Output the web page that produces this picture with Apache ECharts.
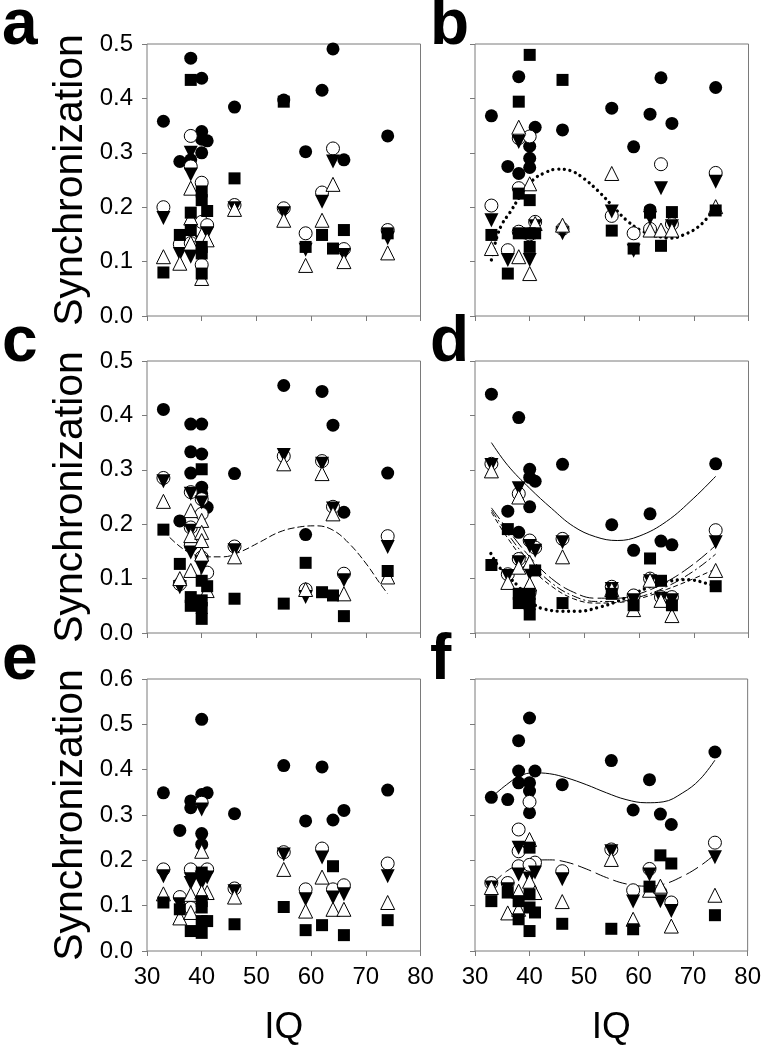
<!DOCTYPE html>
<html>
<head>
<meta charset="utf-8">
<script src="https://cdn.jsdelivr.net/npm/echarts@6/dist/echarts.min.js"></script>
<style>
html, body { margin: 0; padding: 0; background: #fff; }
#chart { width: 764px; height: 1048px; }
</style>
</head>
<body>
<div id="chart"></div>
<script>
// x ticks / y ticks
const iqTicks = [30, 40, 50, 60, 70, 80]
const syncTicksTop = [0, 0.1, 0.2, 0.3, 0.4, 0.5]
const syncTicksBottom = [0, 0.1, 0.2, 0.3, 0.4, 0.5, 0.6]

// panel a
const aCircle = [[33,0.358],[36,0.284],[38,0.474],[38,0.287],[40,0.437],[40,0.339],[40,0.300],[41,0.322],[40,0.325],[46,0.384],[55,0.397],[59,0.302],[62,0.415],[64,0.491],[66,0.287],[74,0.331]]
const aOpen = [[33,0.200],[36,0.132],[38,0.331],[38,0.275],[38,0.134],[40,0.245],[40,0.173],[41,0.167],[40,0.094],[46,0.204],[55,0.198],[59,0.152],[62,0.227],[64,0.308],[66,0.123],[74,0.158]]
const aDown = [[33,0.180],[36,0.114],[38,0.300],[38,0.260],[38,0.109],[40,0.135],[41,0.152],[40,0.118],[46,0.198],[55,0.189],[59,0.122],[62,0.210],[64,0.284],[66,0.112],[74,0.143]]
const aUp = [[33,0.109],[36,0.097],[38,0.235],[38,0.180],[38,0.134],[40,0.149],[41,0.140],[40,0.069],[46,0.196],[55,0.176],[59,0.093],[62,0.176],[64,0.242],[66,0.100],[74,0.116]]
const aSquare = [[33,0.080],[36,0.149],[38,0.434],[38,0.190],[38,0.158],[40,0.229],[40,0.213],[41,0.193],[40,0.127],[40,0.115],[40,0.078],[46,0.253],[55,0.394],[59,0.127],[62,0.149],[64,0.124],[66,0.158],[74,0.152]]

// panel b
const bCircle = [[33,0.368],[36,0.275],[38,0.440],[38,0.262],[40,0.312],[40,0.290],[40,0.273],[41,0.347],[46,0.342],[55,0.382],[59,0.311],[62,0.371],[62,0.195],[64,0.438],[66,0.354],[74,0.420]]
const bOpen = [[33,0.203],[36,0.121],[38,0.327],[38,0.235],[38,0.155],[40,0.330],[41,0.173],[40,0.150],[46,0.160],[55,0.184],[59,0.152],[62,0.160],[64,0.279],[66,0.169],[74,0.263]]
const bDown = [[33,0.176],[36,0.103],[38,0.320],[40,0.103],[41,0.165],[46,0.152],[55,0.192],[59,0.120],[62,0.180],[64,0.235],[66,0.165],[74,0.247]]
const bUp = [[33,0.124],[38,0.347],[38,0.109],[40,0.243],[41,0.170],[40,0.078],[46,0.167],[55,0.262],[62,0.158],[64,0.158],[66,0.158],[74,0.201]]
const bSquare = [[33,0.149],[36,0.078],[38,0.394],[38,0.225],[38,0.152],[40,0.480],[40,0.213],[40,0.152],[41,0.152],[40,0.127],[46,0.434],[55,0.157],[59,0.124],[62,0.190],[64,0.129],[66,0.191],[74,0.194]]
const bFitX = [33, 34, 35, 36.3, 38.2, 40.6, 42.7, 45, 47.5, 50, 52.5, 55, 57.7, 60.2, 62.6, 65.7, 68.1, 71.2, 74]
const bFitDotted = [0.103, 0.145, 0.170, 0.189, 0.219, 0.250, 0.263, 0.270, 0.267, 0.252, 0.230, 0.204, 0.176, 0.158, 0.149, 0.143, 0.149, 0.167, 0.201]

// panel c
const cCircle = [[33,0.411],[36,0.206],[38,0.384],[38,0.333],[38,0.294],[40,0.384],[40,0.329],[40,0.268],[40,0.256],[41,0.231],[46,0.293],[55,0.455],[59,0.181],[62,0.444],[64,0.382],[66,0.222],[74,0.294]]
const cOpen = [[33,0.285],[36,0.090],[38,0.259],[38,0.194],[38,0.161],[40,0.246],[40,0.219],[40,0.139],[41,0.111],[46,0.159],[55,0.325],[59,0.080],[62,0.316],[64,0.232],[66,0.109],[74,0.178]]
const cDown = [[33,0.279],[36,0.084],[38,0.256],[38,0.188],[38,0.148],[40,0.240],[40,0.130],[40,0.120],[46,0.152],[55,0.327],[59,0.066],[62,0.311],[64,0.229],[66,0.097],[74,0.158]]
const cUp = [[33,0.242],[36,0.100],[38,0.225],[38,0.179],[38,0.115],[40,0.207],[40,0.185],[40,0.170],[40,0.145],[41,0.078],[46,0.140],[55,0.311],[59,0.080],[62,0.293],[64,0.219],[66,0.072],[74,0.103]]
const cSquare = [[33,0.190],[36,0.127],[38,0.066],[38,0.050],[40,0.301],[40,0.096],[40,0.060],[40,0.046],[40,0.026],[41,0.086],[46,0.063],[55,0.054],[59,0.129],[62,0.075],[64,0.069],[66,0.031],[74,0.114]]
const cFitX = [32.9, 35.4, 38.1, 40.9, 43.9, 47, 50.6, 54.3, 57.9, 61, 64, 67, 70.1, 72.6, 74]
const cFitDashed = [0.189, 0.164, 0.146, 0.140, 0.140, 0.149, 0.167, 0.186, 0.195, 0.197, 0.189, 0.164, 0.127, 0.091, 0.072]

// panel d
const dCircle = [[33,0.439],[36,0.224],[38,0.396],[38,0.185],[40,0.301],[40,0.286],[41,0.279],[40,0.232],[46,0.310],[55,0.199],[59,0.152],[62,0.219],[64,0.169],[66,0.162],[74,0.311]]
const dOpen = [[33,0.311],[36,0.108],[38,0.256],[38,0.136],[40,0.170],[41,0.157],[40,0.075],[46,0.173],[55,0.085],[59,0.069],[62,0.100],[64,0.066],[66,0.066],[74,0.189]]
const dDown = [[33,0.309],[36,0.105],[38,0.266],[38,0.130],[40,0.160],[41,0.151],[40,0.110],[46,0.167],[55,0.081],[59,0.060],[62,0.095],[64,0.063],[66,0.060],[74,0.167]]
const dUp = [[33,0.298],[36,0.093],[38,0.250],[38,0.121],[40,0.130],[40,0.090],[46,0.140],[55,0.080],[59,0.043],[62,0.097],[64,0.060],[66,0.032],[74,0.115]]
const dSquare = [[33,0.125],[36,0.191],[38,0.072],[38,0.055],[40,0.072],[40,0.053],[40,0.034],[41,0.115],[46,0.055],[55,0.072],[59,0.051],[62,0.137],[64,0.096],[66,0.051],[74,0.086]]
const dFitX = [33, 36, 40, 44, 48, 52, 56, 60, 65, 70, 74]
const dFitSolid = [0.350, 0.308, 0.266, 0.229, 0.196, 0.177, 0.170, 0.178, 0.205, 0.248, 0.288]
const dFitLong = [0.230, 0.190, 0.140, 0.100, 0.075, 0.064, 0.064, 0.072, 0.094, 0.127, 0.161]
const dFitDashDot = [0.226, 0.182, 0.131, 0.092, 0.068, 0.058, 0.058, 0.066, 0.085, 0.114, 0.145]
const dFitShort = [0.222, 0.174, 0.122, 0.086, 0.063, 0.055, 0.056, 0.063, 0.080, 0.100, 0.118]
const dFitDotX = [32.9, 34.2, 36, 38, 40.9, 42.7, 45.8, 49, 52.9, 56, 59, 62, 65, 68, 70, 72, 74]
const dFitDotted = [0.146, 0.124, 0.105, 0.085, 0.052, 0.044, 0.040, 0.040, 0.048, 0.058, 0.072, 0.085, 0.094, 0.098, 0.097, 0.092, 0.086]

// panel e
const eCircle = [[33,0.349],[36,0.266],[38,0.331],[38,0.316],[40,0.511],[40,0.345],[41,0.349],[40,0.259],[40,0.235],[46,0.303],[55,0.409],[59,0.287],[62,0.406],[64,0.289],[66,0.310],[74,0.355]]
const eOpen = [[33,0.180],[36,0.119],[38,0.180],[38,0.110],[38,0.095],[40,0.327],[41,0.180],[46,0.138],[55,0.218],[59,0.136],[62,0.226],[64,0.136],[66,0.145],[74,0.193]]
const eDown = [[33,0.165],[36,0.103],[38,0.158],[38,0.150],[40,0.312],[40,0.162],[41,0.162],[40,0.150],[46,0.132],[55,0.213],[59,0.114],[62,0.206],[64,0.118],[66,0.125],[74,0.165]]
const eUp = [[33,0.126],[36,0.073],[38,0.125],[38,0.085],[40,0.220],[41,0.129],[40,0.130],[46,0.119],[55,0.180],[59,0.088],[62,0.163],[64,0.092],[66,0.092],[74,0.107]]
const eSquare = [[33,0.107],[36,0.092],[38,0.044],[40,0.173],[40,0.110],[40,0.096],[40,0.066],[41,0.066],[40,0.040],[46,0.059],[55,0.097],[59,0.046],[62,0.057],[64,0.187],[66,0.035],[74,0.068]]

// panel f
const fCircle = [[33,0.339],[36,0.334],[38,0.464],[38,0.397],[38,0.371],[40,0.514],[41,0.397],[40,0.371],[40,0.353],[40,0.305],[46,0.367],[55,0.420],[59,0.311],[62,0.378],[64,0.302],[66,0.279],[74,0.439]]
const fOpen = [[33,0.150],[36,0.150],[38,0.268],[38,0.220],[38,0.187],[40,0.329],[41,0.195],[40,0.190],[46,0.176],[55,0.224],[59,0.134],[62,0.181],[64,0.130],[66,0.107],[74,0.239]]
const fDown = [[33,0.140],[36,0.136],[38,0.228],[38,0.169],[40,0.160],[41,0.173],[46,0.158],[55,0.220],[59,0.109],[62,0.169],[64,0.110],[66,0.088],[74,0.207]]
const fUp = [[33,0.140],[36,0.084],[38,0.132],[38,0.092],[40,0.246],[40,0.154],[41,0.129],[46,0.109],[55,0.202],[59,0.070],[62,0.134],[64,0.143],[66,0.055],[74,0.123]]
const fSquare = [[33,0.110],[36,0.129],[38,0.110],[38,0.070],[40,0.228],[40,0.125],[40,0.096],[41,0.085],[40,0.044],[46,0.060],[55,0.049],[59,0.048],[62,0.142],[64,0.211],[66,0.193],[74,0.079]]
const fFitX = [33, 35.8, 38.2, 40.7, 43.7, 46.8, 50.4, 54.1, 57.7, 61.4, 64.5, 68.1, 71.2, 74]
const fFitSolid = [0.339, 0.367, 0.386, 0.393, 0.391, 0.382, 0.367, 0.349, 0.334, 0.327, 0.329, 0.349, 0.378, 0.421]
const fFitDashed = [0.146, 0.176, 0.191, 0.200, 0.201, 0.196, 0.181, 0.162, 0.148, 0.143, 0.147, 0.165, 0.187, 0.213]

const FONT = '"Liberation Sans", Arial, sans-serif'
const GRAY = '#7a7a7a'

const pair = (xs, ys) => xs.map((x, i) => [x, ys[i]])

const panels = [
  { letter: 'a', left: 147, top: 44, ticks: syncTicksTop, xLabel: false, yLabel: true,
    marks: [aCircle, aOpen, aDown, aUp, aSquare], fits: [] },
  { letter: 'b', left: 475, top: 44, ticks: syncTicksTop, xLabel: false, yLabel: false,
    marks: [bCircle, bOpen, bDown, bUp, bSquare],
    fits: [{ data: pair(bFitX, bFitDotted), style: 'dot' }] },
  { letter: 'c', left: 147, top: 361, ticks: syncTicksTop, xLabel: false, yLabel: true,
    marks: [cCircle, cOpen, cDown, cUp, cSquare],
    fits: [{ data: pair(cFitX, cFitDashed), style: [7, 3] }] },
  { letter: 'd', left: 475, top: 361, ticks: syncTicksTop, xLabel: false, yLabel: false,
    marks: [dCircle, dOpen, dDown, dUp, dSquare],
    fits: [
      { data: pair(dFitX, dFitSolid), style: 'solid' },
      { data: pair(dFitX, dFitLong), style: [14, 4] },
      { data: pair(dFitX, dFitDashDot), style: [9, 3, 2, 3] },
      { data: pair(dFitX, dFitShort), style: [5, 3] },
      { data: pair(dFitDotX, dFitDotted), style: 'dot' }
    ] },
  { letter: 'e', left: 147, top: 679, ticks: syncTicksBottom, xLabel: true, yLabel: true,
    marks: [eCircle, eOpen, eDown, eUp, eSquare], fits: [] },
  { letter: 'f', left: 475, top: 679, ticks: syncTicksBottom, xLabel: true, yLabel: false,
    marks: [fCircle, fOpen, fDown, fUp, fSquare],
    fits: [
      { data: pair(fFitX, fFitSolid), style: 'solid' },
      { data: pair(fFitX, fFitDashed), style: [14, 5] }
    ] }
]

// ● ○ ▼ △ ■ (drawn in this order, later ones on top)
const markStyles = [
  { symbol: 'circle', symbolSize: 13, itemStyle: { color: '#000', opacity: 1 } },
  { symbol: 'circle', symbolSize: 13, itemStyle: { color: '#fff', borderColor: '#000', borderWidth: 1, opacity: 1 } },
  { symbol: 'triangle', symbolSize: 14, symbolRotate: 180, itemStyle: { color: '#000', opacity: 1 } },
  { symbol: 'triangle', symbolSize: 14, itemStyle: { color: '#fff', borderColor: '#000', borderWidth: 1, opacity: 1 } },
  { symbol: 'rect', symbolSize: 12, itemStyle: { color: '#000', opacity: 1 } }
]

const grids = [], xAxes = [], yAxes = [], series = [], titles = []

panels.forEach((p, i) => {
  const yMax = p.ticks[p.ticks.length - 1]
  grids.push({ left: p.left, top: p.top, width: 273.5, height: 272, show: true,
    borderColor: GRAY, borderWidth: 1 })
  xAxes.push({
    gridIndex: i, type: 'value', min: iqTicks[0], max: iqTicks[iqTicks.length - 1], interval: 10,
    axisLine: { show: false }, splitLine: { show: false },
    axisTick: { show: true, length: 5, lineStyle: { color: GRAY } },
    axisLabel: { show: p.xLabel, color: '#000', fontSize: 24, fontFamily: FONT, margin: 14 },
    name: p.xLabel ? 'IQ' : '', nameLocation: 'middle', nameGap: 58,
    nameTextStyle: { color: '#000', fontSize: 37, fontFamily: FONT }
  })
  yAxes.push({
    gridIndex: i, type: 'value', min: 0, max: yMax, interval: 0.1,
    axisLine: { show: false }, splitLine: { show: false },
    axisTick: { show: true, length: 5, lineStyle: { color: GRAY } },
    axisLabel: { show: p.yLabel, color: '#000', fontSize: 24, fontFamily: FONT, margin: 14,
      formatter: (v) => v.toFixed(1) },
    name: p.yLabel ? 'Synchronization' : '', nameLocation: 'middle', nameRotate: 90, nameGap: 56,
    nameTextStyle: { color: '#000', fontSize: 41, fontFamily: FONT }
  })
  p.fits.forEach((f) => {
    const dot = f.style === 'dot'
    series.push({
      type: 'line', xAxisIndex: i, yAxisIndex: i, data: f.data, showSymbol: false,
      smooth: 0.4, silent: true, z: 1,
      lineStyle: dot
        ? { color: '#000', width: 3.3, type: [0.01, 5.7], cap: 'round' }
        : { color: '#000', width: 1, type: f.style }
    })
  })
  p.marks.forEach((data, k) => {
    series.push(Object.assign({
      type: 'scatter', xAxisIndex: i, yAxisIndex: i, data: data, silent: true, z: 2 + k
    }, markStyles[k]))
  })
  titles.push({
    text: p.letter, left: p.left < 300 ? 2 : 430, top: p.top - 50, padding: 0,
    textStyle: { color: '#000', fontSize: 64, fontWeight: 'bold', fontFamily: FONT, lineHeight: 64 }
  })
})

const chart = echarts.init(document.getElementById('chart'))
chart.setOption({
  animation: false,
  backgroundColor: '#fff',
  title: titles,
  grid: grids,
  xAxis: xAxes,
  yAxis: yAxes,
  series: series
})
</script>
</body>
</html>
